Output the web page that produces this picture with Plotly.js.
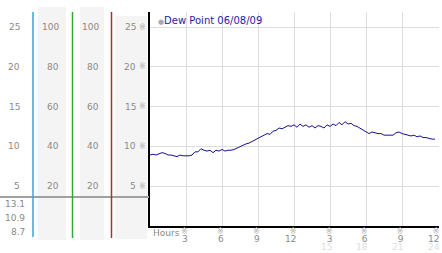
<!DOCTYPE html>
<html><head><meta charset="utf-8">
<script src="https://cdn.plot.ly/plotly-3.0.1.min.js"></script>
<style>html,body{margin:0;padding:0;background:#fff}#c{width:442px;height:253px}</style>
</head><body><div id="c"></div>
<script>
const hours = [0,0.25,0.5,0.75,1,1.25,1.5,1.75,2,2.25,2.5,2.75,3,3.25,3.5,3.75,4,4.25,4.5,4.75,5,5.25,5.5,5.75,6,6.25,6.5,6.75,7,7.25,7.5,7.75,8,8.25,8.5,8.75,9,9.25,9.5,9.75,10,10.25,10.5,10.75,11,11.25,11.5,11.75,12,12.25,12.5,12.75,13,13.25,13.5,13.75,14,14.25,14.5,14.75,15,15.25,15.5,15.75,16,16.25,16.5,16.75,17,17.25,17.5,17.75,18,18.25,18.5,18.75,19,19.25,19.5,19.75,20,20.25,20.5,20.75,21,21.25,21.5,21.75,22,22.25,22.5,22.75,23,23.25,23.5,23.75];
const dewPoint = [8.9,9.0,8.9,9.1, 9.2,9.1,8.9,8.9, 8.8,8.7,8.9,8.8, 8.8,8.8,8.9,9.3, 9.3,9.7,9.5,9.4, 9.5,9.2,9.5,9.4, 9.6,9.4,9.5,9.5, 9.6,9.8,10.0,10.1, 10.3,10.4,10.6,10.8, 10.9,11.2,11.4,11.6, 11.5,11.9,12.0,12.3, 12.2,12.4,12.6,12.5, 12.7,12.4,12.8,12.5, 12.7,12.4,12.6,12.3, 12.6,12.5,12.3,12.7, 12.5,12.8,12.6,13.0, 12.7,13.1,12.8,12.9, 12.6,12.5,12.3,12.0, 11.9,11.6,11.8,11.7, 11.6,11.6,11.4,11.4, 11.4,11.4,11.7,11.8, 11.6,11.5,11.4,11.3, 11.4,11.2,11.3,11.1, 11.1,11.0,10.9,10.9];
const seriesName = "Dew Point 06/08/09";
const xTickVals = [3,6,9,12,15,18,21,24];
const xTickText = ["3","6","9","12","3","6","9","12"];
const xTickText2 = ["","","","","15","18","21","24"];
const tempTicks = [5,10,15,20,25];
const humTicks = [20,40,60,80,100];
const stats = ["13.1","10.9","8.7"]; // max, avg, min

const W = 442, H = 253;
const px = v => v / W;
const py = v => (H - v) / H;
const grey = "#8a8a8a";
const font = "DejaVu Sans, Verdana, sans-serif";
const markFont = {family:"DejaVu Sans", size:8, color:"#b0b0b0"};

const trace = {
  x: hours, y: dewPoint, type: "scatter", mode: "lines",
  line: {color: "#14148c", width: 1}, name: seriesName, hoverinfo: "none"
};

const ann = [];
const lab = (o) => Object.assign({showarrow:false, font:{family:font,size:9,color:grey}}, o);
tempTicks.forEach(v => {
  ann.push(lab({xref:"paper", yref:"y", x:px(22), y:v, text:String(v), xanchor:"right"}));
  ann.push(lab({xref:"paper", yref:"y", x:px(138), y:v, text:String(v), xanchor:"right"}));
  ann.push({xref:"paper", yref:"y", x:px(148), y:v, text:"※", xanchor:"right", showarrow:false, font:markFont});
});
humTicks.forEach(v => {
  ann.push(lab({xref:"paper", yref:"y2", x:px(61), y:v, text:String(v), xanchor:"right"}));
  ann.push(lab({xref:"paper", yref:"y2", x:px(101), y:v, text:String(v), xanchor:"right"}));
});
[204,218,232].forEach((yy,i) => {
  ann.push(lab({xref:"paper", yref:"paper", x:px(27), y:py(yy), text:stats[i], xanchor:"right", yanchor:"middle"}));
});
xTickVals.forEach((v,i) => {
  let t = '<span style="font-size:8px;color:#b0b0b0">※</span><br><span style="font-size:9px">' + xTickText[i] + '</span>';
  if (xTickText2[i]) t += '<br><span style="font-size:9px;color:#dedede">' + xTickText2[i] + '</span>';
  ann.push({xref:"x", yref:"paper", x:v, xshift:3.5, y:py(224.5), text:t, xanchor:"right", yanchor:"top", align:"right",
    showarrow:false, font:{family:font, size:6, color:grey}});
});
ann.push(lab({xref:"paper", yref:"paper", x:px(151), y:py(233), text:"Hours", xanchor:"left", yanchor:"middle"}));
ann.push({xref:"paper", yref:"paper", x:px(156), y:py(21), text:'<span style="color:#aaaaaa;font-size:7px">●</span>' + seriesName, xanchor:"left", yanchor:"middle", showarrow:false, font:{family:font,size:10,color:"#1c1ca8"}});

const shapes = [
  {type:"rect", xref:"paper", yref:"paper", x0:px(38), x1:px(66), y0:py(240), y1:py(7), fillcolor:"#f4f4f4", line:{width:0}, layer:"below"},
  {type:"rect", xref:"paper", yref:"paper", x0:px(80), x1:px(104), y0:py(240), y1:py(7), fillcolor:"#f4f4f4", line:{width:0}, layer:"below"},
  {type:"rect", xref:"paper", yref:"paper", x0:px(115), x1:px(147), y0:py(239), y1:py(16), fillcolor:"#f4f4f4", line:{width:0}, layer:"below"},
  {type:"line", xref:"paper", yref:"paper", x0:0, x1:px(149), y0:py(197), y1:py(197), line:{color:"#a0a0a0", width:2}},
  {type:"line", xref:"paper", yref:"paper", x0:px(33), x1:px(33), y0:py(237), y1:py(12), line:{color:"#33a6d8", width:1.5}},
  {type:"line", xref:"paper", yref:"paper", x0:px(72.5), x1:px(72.5), y0:py(238), y1:py(12), line:{color:"#33a633", width:1.5}},
  {type:"line", xref:"paper", yref:"paper", x0:px(111.5), x1:px(111.5), y0:py(238), y1:py(12), line:{color:"#a83030", width:1.5}}
];

const yTop = 26.9;
const layout = {
  width: W, height: H, margin: {l:0, r:0, t:0, b:0},
  paper_bgcolor: "#fff", plot_bgcolor: "rgba(0,0,0,0)", showlegend: false,
  xaxis: {domain:[px(150), px(439)], range:[0, 24.08], tickvals:xTickVals, showticklabels:false,
    showgrid:true, gridcolor:"#dddddd", gridwidth:1, zeroline:false, showline:true, linecolor:"#000", linewidth:2,
    ticks:"", fixedrange:true},
  yaxis: {domain:[py(225.75), py(12)], range:[0, yTop], tickvals:tempTicks, showticklabels:false,
    showgrid:true, gridcolor:"#dddddd", gridwidth:1, zeroline:false, showline:true, linecolor:"#000", linewidth:2,
    ticks:"", fixedrange:true},
  yaxis2: {overlaying:"y", range:[0, yTop*4], visible:false, fixedrange:true},
  annotations: ann, shapes: shapes
};
Plotly.newPlot("c", [trace], layout, {staticPlot:true, displayModeBar:false});
</script></body></html>
